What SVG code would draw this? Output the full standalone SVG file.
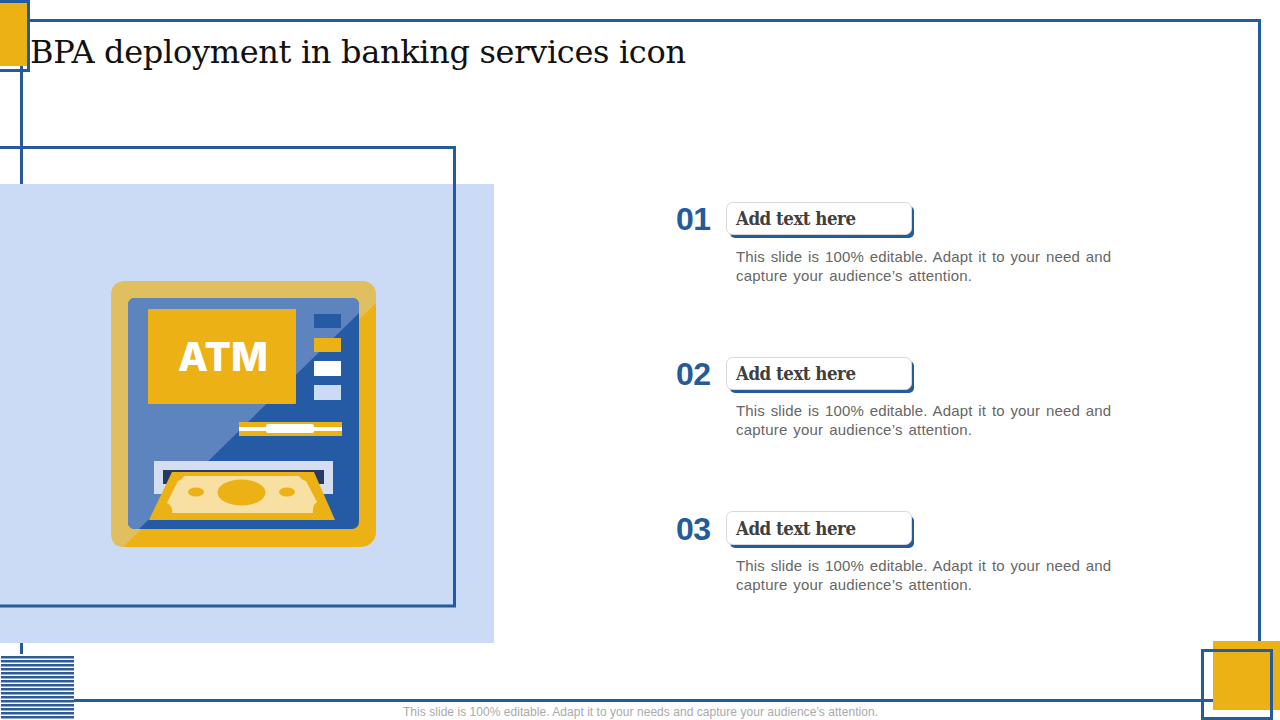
<svg xmlns="http://www.w3.org/2000/svg" width="1280" height="720" viewBox="0 0 1280 720">
<style>
.ln{fill:none;stroke:#255a9b;stroke-width:3}
.y{fill:#ecb215}
.num{font:bold 32px "Liberation Sans",Arial,sans-serif;fill:#255a9b;letter-spacing:-0.500px}
.hd{font:bold 18.500px "DejaVu Serif Condensed","DejaVu Serif",serif;fill:#404040}
.bd{font:15px "Liberation Sans",Arial,sans-serif;fill:#666;word-spacing:1.500px}
.pill{fill:#fff;stroke:#d9d9d9;stroke-width:1}
.sh{fill:#255a9b}
</style>
<rect width="1280" height="720" fill="#fff"/>
<g id="frame">
<path class="ln" d="M21.500 20.500H1259.500V700.500H21.500Z"/>
</g>
<g id="panel">
<rect x="0" y="184" width="494" height="459" fill="#cbdbf5"/>
<path class="ln" d="M0 147.500H454.500V606H0"/>
</g>
<g id="corner-top-left">
<rect x="0" y="1" width="27" height="65" class="y"/>
<path class="ln" d="M0 1.500H28.500V70.500H0"/>
</g>
<g id="title">
<text x="30" y="63" font-family="DejaVu Serif,serif" font-size="32" textLength="656" fill="#111">BPA deployment in banking services icon</text>
</g>
<g id="stripes">
<rect x="0" y="654" width="74" height="66" fill="#fff"/>
<g fill="#2f5b94">
<rect x="1" y="656" width="73" height="2.500"/><rect x="1" y="660" width="73" height="2.500"/><rect x="1" y="664" width="73" height="2.500"/><rect x="1" y="668" width="73" height="2.500"/><rect x="1" y="672" width="73" height="2.500"/><rect x="1" y="676" width="73" height="2.500"/><rect x="1" y="680" width="73" height="2.500"/><rect x="1" y="684" width="73" height="2.500"/><rect x="1" y="688" width="73" height="2.500"/><rect x="1" y="692" width="73" height="2.500"/><rect x="1" y="696" width="73" height="2.500"/><rect x="1" y="700" width="73" height="2.500"/><rect x="1" y="704" width="73" height="2.500"/><rect x="1" y="708" width="73" height="2.500"/><rect x="1" y="712" width="73" height="2.500"/><rect x="1" y="716" width="73" height="2.500"/>
</g>
</g>
<g id="corner-bottom-right">
<rect x="1213" y="641" width="67" height="69" class="y"/>
<path class="ln" d="M1202.500 650.500H1271.500V718.500H1202.500Z"/>
</g>
<g id="atm">
<rect x="111" y="281" width="265" height="266" rx="15" class="y"/>
<path d="M126 281H361Q376 281 376 296V303L123 547Q111 547 111 532V296Q111 281 126 281Z" fill="#e0bf60"/>
<rect x="128" y="298" width="231" height="231" rx="7" fill="#255aa5"/>
<path d="M135 298H352Q359 298 359 305V313L139 529H135Q128 529 128 522V305Q128 298 135 298Z" fill="#5e84c0"/>
<rect x="148" y="309" width="148" height="95" rx="1" class="y"/>
<text x="178" y="371" font-family="Inter,Open Sans,sans-serif" font-weight="800" font-size="40" textLength="90" lengthAdjust="spacingAndGlyphs" fill="#fff">ATM</text>
<rect x="314" y="314" width="27" height="14" fill="#255aa5"/>
<rect x="314" y="338" width="27" height="14" class="y"/>
<rect x="314" y="361" width="27" height="15" fill="#fff"/>
<rect x="314" y="385" width="27" height="15" fill="#cbdbf5"/>
<rect x="239" y="422" width="103" height="14" class="y"/>
<rect x="239" y="427" width="103" height="4" fill="#fff"/>
<rect x="266" y="424" width="48" height="9" rx="2" fill="#fff"/>
<rect x="154" y="461" width="179" height="33" fill="#d5def0"/>
<rect x="163" y="470" width="161" height="14" fill="#263a66"/>
<path d="M172 472H314L335 520H149Z" class="y"/>
<path d="M184 476H299Q301 480 306 481L317 502Q312 505 313 513H172Q173 506 167 503L178 481Q182 480 184 476Z" fill="#f8e0a3"/>
<ellipse cx="241.500" cy="492.500" rx="24" ry="13" class="y"/>
<ellipse cx="196" cy="492" rx="8" ry="4.500" class="y"/>
<ellipse cx="287" cy="492" rx="8" ry="4.500" class="y"/>
</g>
<g id="item-1">
<text x="676" y="230" class="num">01</text>
<rect x="730" y="206" width="184" height="32" rx="5" class="sh"/>
<rect x="726.500" y="202.500" width="185" height="32" rx="6" class="pill"/>
<text x="736" y="225" class="hd" textLength="120">Add text here</text>
<text x="736" y="262" class="bd" textLength="375">This slide is 100% editable. Adapt it to your need and</text>
<text x="736" y="281" class="bd" textLength="236">capture your audience’s attention.</text>
</g>
<g id="item-2">
<text x="676" y="385" class="num">02</text>
<rect x="730" y="361" width="184" height="32" rx="5" class="sh"/>
<rect x="726.500" y="357.500" width="185" height="32" rx="6" class="pill"/>
<text x="736" y="380" class="hd" textLength="120">Add text here</text>
<text x="736" y="416" class="bd" textLength="375">This slide is 100% editable. Adapt it to your need and</text>
<text x="736" y="435" class="bd" textLength="236">capture your audience’s attention.</text>
</g>
<g id="item-3">
<text x="676" y="540" class="num">03</text>
<rect x="730" y="516" width="184" height="32" rx="5" class="sh"/>
<rect x="726.500" y="511.500" width="185" height="33" rx="6" class="pill"/>
<text x="736" y="535" class="hd" textLength="120">Add text here</text>
<text x="736" y="571" class="bd" textLength="375">This slide is 100% editable. Adapt it to your need and</text>
<text x="736" y="590" class="bd" textLength="236">capture your audience’s attention.</text>
</g>
<g id="footer">
<text x="403" y="716" font-family="Liberation Sans,Arial,sans-serif" font-size="12" textLength="475" fill="#aaa">This slide is 100% editable. Adapt it to your needs and capture your audience’s attention.</text>
</g>
</svg>
